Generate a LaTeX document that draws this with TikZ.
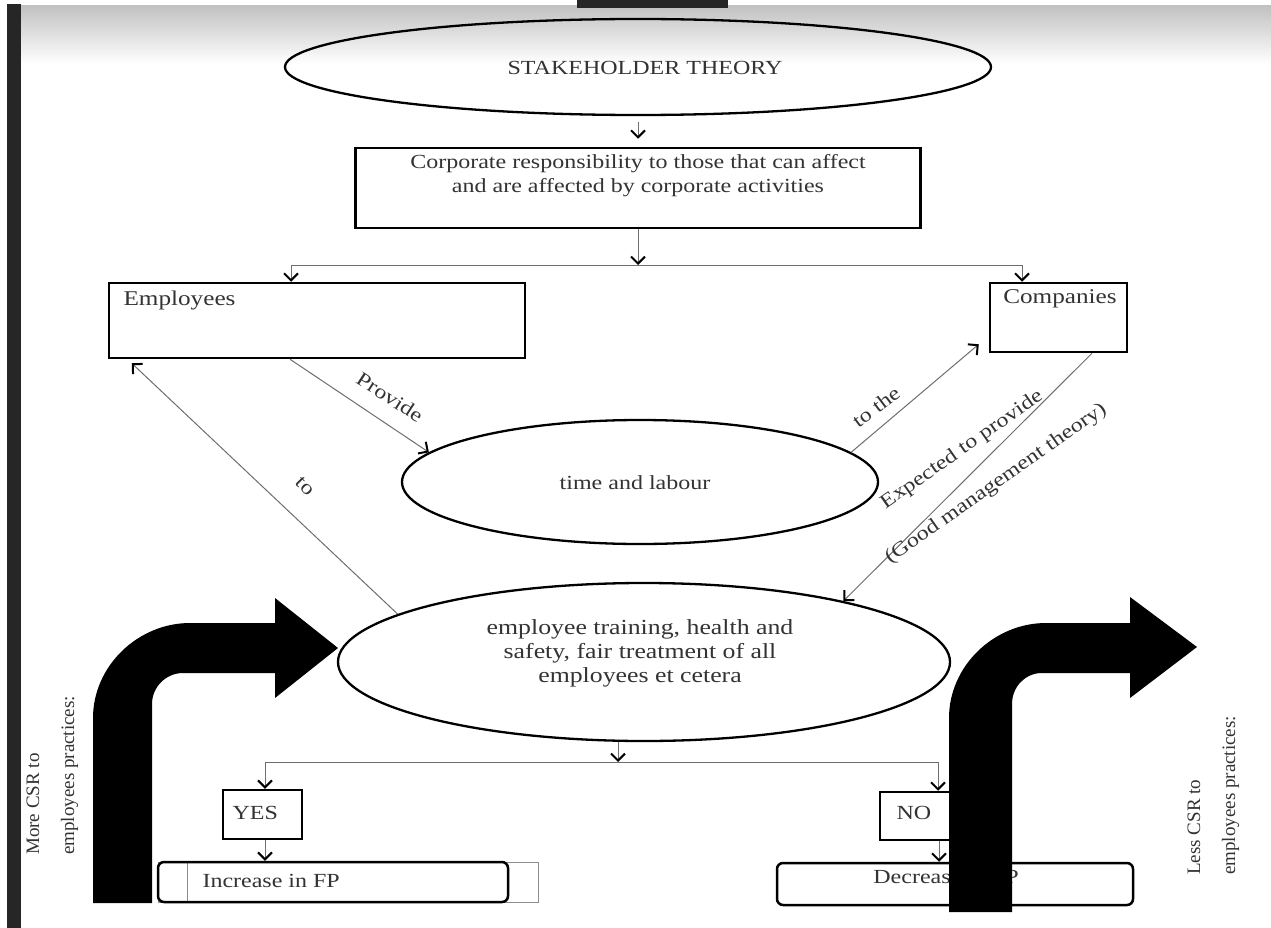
\documentclass[tikz,border=0pt]{standalone}
\usepackage{fontspec}
\setmainfont{Liberation Serif}[FakeStretch=1.2]
\newfontfamily\plainserif{Liberation Serif}
\usetikzlibrary{arrows.meta,shapes.geometric,calc}
\definecolor{txtcol}{HTML}{333333}
\definecolor{conncol}{HTML}{6E6E6E}
\begin{document}
\begin{tikzpicture}[x=1pt,y=-1pt,
  every node/.style={text=txtcol, font=\fontsize{20}{24}\selectfont},
  ell/.style={ellipse, draw=black, line width=2.3pt, inner sep=0pt},
  box/.style={rectangle, draw=black, line width=2.5pt, inner sep=0pt},
  rbox/.style={rectangle, rounded corners=6pt, draw=black, line width=2.5pt, inner sep=0pt},
  conn/.style={draw=conncol, line width=1pt},
  arr/.style={conn, -{Straight Barb[length=7pt,width=14pt,line width=2pt,color=black]}},
  lbl/.style={inner sep=0pt},
  sidetxt/.style={inner sep=0pt, rotate=90, align=left, font=\plainserif\fontsize{19}{35}\selectfont},
  bigarrow/.style={fill=black, draw=none}
]
\useasboundingbox (0,0) rectangle (1271,928);
\fill[white] (0,0) rectangle (1271,928);
\shade[top color=black!24, bottom color=white] (21,6) rectangle (1271,64);
\fill[black!85] (7,4) rectangle (21,928);
\fill[black!85] (577,0) rectangle (728,8);

% nodes
\node[ell, minimum width=706pt, minimum height=96pt] (st) at (638,67) {};
\node (stt) at (645,68) {STAKEHOLDER THEORY};
\node[box, minimum width=565pt, minimum height=80pt] (cr) at (638,188) {};
\node[align=center] (crt) at (638,176) {Corporate responsibility to those that can affect\\and are affected by corporate activities};
\node[box, minimum width=416pt, minimum height=75pt] (emp) at (317,320.5) {};
\node[anchor=west, font=\fontsize{21}{24}\selectfont] (empt) at (120,300) {Employees};
\node[box, minimum width=137pt, minimum height=69pt] (com) at (1058.5,317.5) {};
\node[font=\fontsize{21}{24}\selectfont] (comt) at (1060,299) {Companies};
\node[ell, minimum width=476pt, minimum height=124pt] (tl) at (640,482) {};
\node (tlt) at (635,483) {time and labour};
\node[ell, minimum width=612pt, minimum height=158pt] (et) at (644,662) {};
\node[align=center, font=\fontsize{21.5}{24}\selectfont] (ett) at (640,653) {employee training, health and\\safety, fair treatment of all\\employees et cetera};

\node[box, minimum width=79pt, minimum height=49pt] (yes) at (262.5,814.5) {};
\node[anchor=west] (yest) at (229,813) {YES};
\node[box, minimum width=110pt, minimum height=48pt] (no) at (935,816) {};
\node[anchor=west] (not) at (893,813) {NO};

\draw[black!45, line width=0.8pt] (158,862) rectangle (538,902);
\draw[black!45, line width=0.8pt] (187,862) -- (187,902);
\node[rbox, minimum width=350pt, minimum height=40pt] (inc) at (333,882) {};
\node[anchor=west] (inct) at (199,881) {Increase in FP};
\node[rbox, minimum width=356pt, minimum height=42pt] (dec) at (955,884) {};
\node (dect) at (946,877) {Decrease in FP};

% connectors
\draw[arr, shorten <=6pt, shorten >=8pt] (st.south) -- (cr.north);
\coordinate (j1) at (638,265);
\draw[arr] (cr.south) -- (j1);
\draw[arr] (j1) -| ([xshift=-26pt]emp.north);
\draw[arr] (j1) -| ([xshift=-36.5pt]com.north);

\draw[arr] ([xshift=-27pt]emp.south) -- (tl.172);
\node[lbl, rotate=-33] (provide) at (390,397) {Provide};

\draw[arr] (et.169) -- ([xshift=24pt,yshift=-4pt]emp.south west);
\node[lbl, rotate=-45] (to1) at (305,486) {to};

\draw[arr] (tl.8) -- ($(com.south west)+(-10,-9)$);
\node[lbl, rotate=37] (tothe) at (876,407) {to the};

\draw[arr] ([xshift=33.5pt]com.south) -- (et.17);
\node[lbl, rotate=35] (exp) at (962,450) {Expected to provide};
\node[lbl, rotate=35] (good) at (996,484) {(Good management theory)};

\coordinate (j2) at (618,762);
\draw[arr] ([xshift=-26pt]et.south) -- (j2);
\draw[arr] (j2) -| ([xshift=2.5pt]yes.north);
\draw[arr] (j2) -| ([xshift=3pt]no.north);
\draw[arr] ([xshift=2.5pt]yes.south) -- ([xshift=2.5pt]yes.south |- inc.north);
\draw[arr] ([xshift=4pt]no.south) -- ([xshift=4pt]no.south |- dec.north);

% big curved arrows
\fill[bigarrow] (93,903) -- (93,718) .. controls (93,666) and (138,623) .. (190,623)
  -- (275,623) -- (275,598) -- (338,648) -- (275,698) -- (275,673) -- (183,673)
  .. controls (166,673) and (152,687) .. (152,704) -- (152,903) -- cycle;
\fill[bigarrow] (949,912) -- (949,718) .. controls (949,666) and (994,623) .. (1046,623)
  -- (1130,623) -- (1130,597) -- (1197,647) -- (1130,698) -- (1130,673) -- (1042,673)
  .. controls (1025,673) and (1012,687) .. (1012,704) -- (1012,912) -- cycle;

% side labels
\node[sidetxt, anchor=base west] (more) at (74,855) {More CSR to\\employees practices:};
\node[sidetxt, anchor=base west] (less) at (1235,875) {Less CSR to\\employees practices:};
\end{tikzpicture}
\end{document}
